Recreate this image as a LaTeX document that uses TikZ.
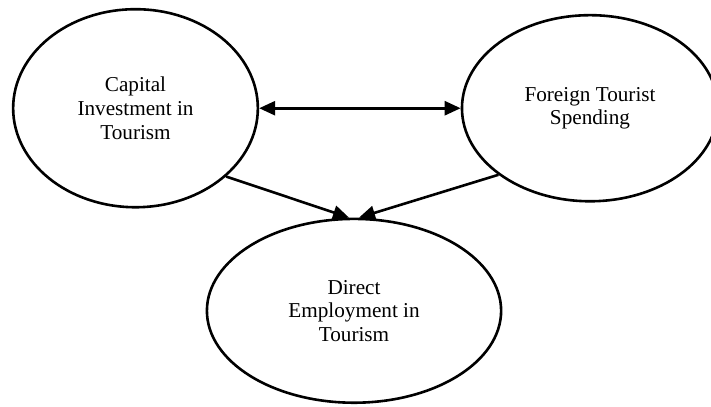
\documentclass[tikz,border=0pt]{standalone}
\usepackage{fontspec}
\setmainfont{Liberation Serif}
\usetikzlibrary{arrows.meta}
\usetikzlibrary{shapes}

\begin{document}
\begin{tikzpicture}[factor/.style={
      ellipse,
      draw=black,
      line width=1.3pt,
      align=center,
      font=\fontsize{10.6}{11.8}\selectfont
    },
    link/.style={line width=1.3pt,-{Triangle[length=8pt,width=7pt]}}]

\useasboundingbox (0,0) rectangle (12.494,7.152);

\node[factor, minimum width=4.3cm, minimum height=3.48cm] (ci) at (2.381,5.25) {Capital\\ Investment in\\ Tourism};
\node[factor, minimum width=4.5cm, minimum height=3.27cm] (fts) at (10.368,5.25) {Foreign Tourist\\ Spending};
\node[factor, minimum width=5.17cm, minimum height=3.23cm] (de) at (6.221,1.69) {Direct\\ Employment in\\ Tourism};

\draw[link,{Triangle[length=8pt,width=7pt]}-{Triangle[length=8pt,width=7pt]}] (ci) -- (fts);
\draw[link] (ci.-37.6) -- ([xshift=-2.5pt]de.north);
\draw[link] (fts.-144) -- ([xshift=2.5pt]de.north);

\end{tikzpicture}
\end{document}
